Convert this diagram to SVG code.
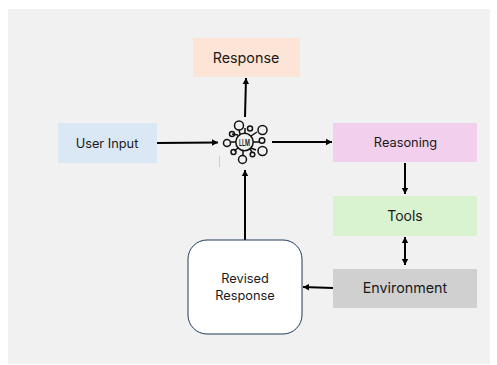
<svg xmlns="http://www.w3.org/2000/svg" width="497" height="365" viewBox="0 0 497 365">
<defs>
<marker id="a" markerUnits="userSpaceOnUse" markerWidth="8" markerHeight="8" refX="6" refY="4" orient="auto-start-reverse"><path d="M0 0.8L6 4L0 7.2Z" fill="#000"/></marker>
</defs>
<style>
text{font-family:"Inter","Liberation Sans",sans-serif;fill:#1a1a1a;text-anchor:middle}
.c{fill:none;stroke:#000;stroke-width:2;marker-end:url(#a)}
.l{fill:none;stroke:#111;stroke-width:1.5}
</style>
<rect width="497" height="365" fill="#fff"/>
<rect x="8" y="9" width="482" height="355" fill="#f1f1f1"/>
<g id="connectors">
<path class="c" d="M245 117L246 78"/>
<path class="c" d="M156 143L218 142.500"/>
<path class="c" d="M272 142L332 142"/>
<path class="c" d="M405 163V194"/>
<path class="c" d="M405 237V265" style="marker-start:url(#a)"/>
<path class="c" d="M333 288L303 287"/>
<path class="c" d="M245 240V170"/>
</g>
<g id="response"><rect x="193" y="38" width="107" height="39" fill="#fce4d6"/><text x="246" y="63" font-size="14.300">Response</text></g>
<g id="user-input"><rect x="58" y="123" width="99" height="40" fill="#dae8f5"/><text x="107" y="148" font-size="12.800">User Input</text></g>
<g id="llm">
<g class="l">
<path d="M245 134V128M238 135L232 134M251 136L257 132M236 142H231M253 142H259M238 148L234 151M251 148L256 150M243 151V155M240 134L239 130M250 149L252 152"/>
<circle cx="244.500" cy="142" r="8.700"/>
<circle cx="239" cy="125.500" r="4.500"/><circle cx="250" cy="128.500" r="2.500"/><circle cx="262.500" cy="130" r="4.500"/><circle cx="232" cy="134" r="2.500"/><circle cx="262" cy="140.500" r="2.800"/><circle cx="227" cy="143" r="3.500"/><circle cx="262.500" cy="151" r="4.500"/><circle cx="233.500" cy="152" r="2.500"/><circle cx="252.500" cy="154.500" r="2.300"/><circle cx="242.500" cy="159.500" r="4"/>
</g>
<text x="244.500" y="145.500" font-size="9" font-weight="600" style="fill:#111" textLength="11" lengthAdjust="spacingAndGlyphs">LLM</text>
<rect x="219" y="156" width="1" height="11" fill="#ccc"/>
</g>
<g id="reasoning"><rect x="333" y="123" width="144" height="39" fill="#f2cfec"/><text x="405.500" y="147" font-size="12.800">Reasoning</text></g>
<g id="tools"><rect x="333" y="196" width="144" height="40" fill="#d9f2d0"/><text x="405" y="221" font-size="14">Tools</text></g>
<g id="environment"><rect x="333" y="269" width="144" height="39" fill="#d0d0d0"/><text x="405" y="293" font-size="14.300">Environment</text></g>
<g id="revised-response"><rect x="188" y="240" width="114" height="94" rx="19" fill="#fff" stroke="#1f3a5a" stroke-width="1"/><text x="245" y="283" font-size="12.800">Revised</text><text x="245" y="300" font-size="12.800">Response</text></g>
</svg>
